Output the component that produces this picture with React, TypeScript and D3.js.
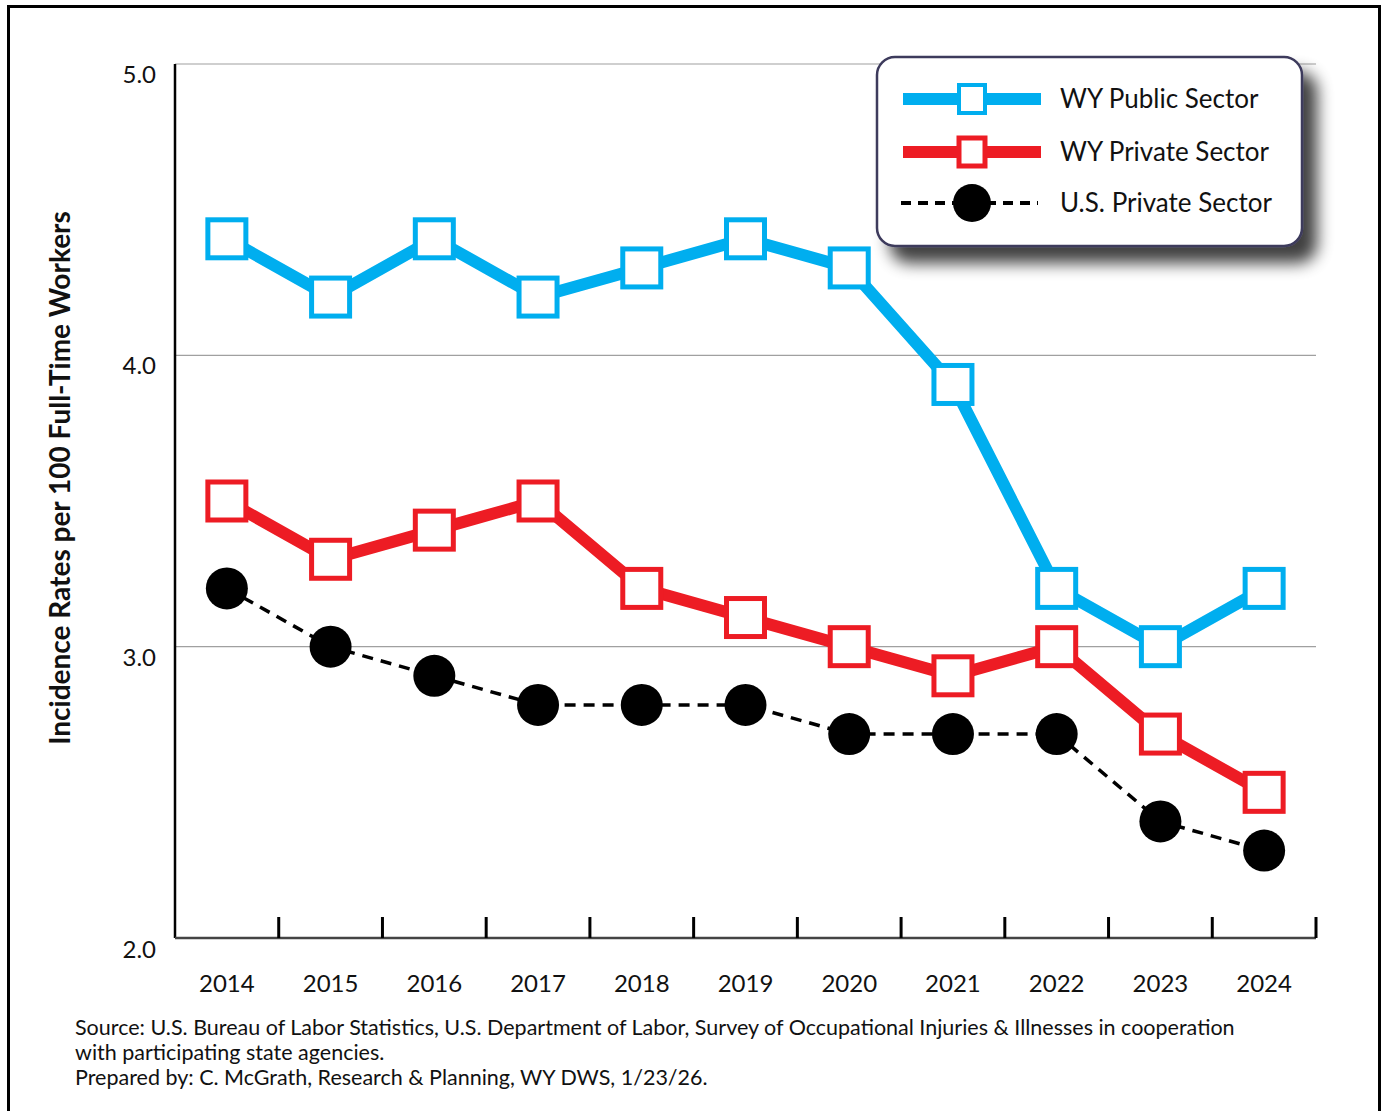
import React from "react";
import * as d3 from "d3";

const years = ["2014", "2015", "2016", "2017", "2018", "2019", "2020", "2021", "2022", "2023", "2024"];
const wyPublic = [4.4, 4.2, 4.4, 4.2, 4.3, 4.4, 4.3, 3.9, 3.2, 3.0, 3.2];
const wyPrivate = [3.5, 3.3, 3.4, 3.5, 3.2, 3.1, 3.0, 2.9, 3.0, 2.7, 2.5];
const usPrivate = [3.2, 3.0, 2.9, 2.8, 2.8, 2.8, 2.7, 2.7, 2.7, 2.4, 2.3];
const yTicks = [2.0, 3.0, 4.0, 5.0];
const seriesNames = ["WY Public Sector", "WY Private Sector", "U.S. Private Sector"];
const footer = [
  "Source: U.S. Bureau of Labor Statistics, U.S. Department of Labor, Survey of Occupational Injuries & Illnesses in cooperation",
  "with participating state agencies.",
  "Prepared by: C. McGrath, Research & Planning, WY DWS, 1/23/26.",
];

const BLUE = "#00AEEF";
const RED = "#ED1C24";
const FONT = "Lato, 'Open Sans', sans-serif";

export default function App() {
  const W = 1384, H = 1111;
  const left = 175, right = 1316, top = 64, bottom = 938;
  const x = d3.scaleBand<string>().domain(years).range([left, right]);
  const y = d3.scaleLinear().domain([2, 5]).range([bottom, top]);
  const cx = (i: number) => (x(years[i]) as number) + x.bandwidth() / 2;
  const line = d3.line<number>().x((_, i) => cx(i)).y((d) => y(d));
  const sq = 38;

  const legX = 877, legY = 57, legW = 425, legH = 189;
  const legRows = [99, 152, 203];

  return (
    <svg width={W} height={H} style={{ position: "absolute", left: 0, top: 0 }}>
      <defs>
        <filter id="shadow" x="-10%" y="-10%" width="130%" height="150%">
          <feGaussianBlur in="SourceAlpha" stdDeviation="8" />
          <feOffset dx="14" dy="16" result="off" />
          <feComponentTransfer>
            <feFuncA type="linear" slope="0.75" />
          </feComponentTransfer>
          <feMerge>
            <feMergeNode />
            <feMergeNode in="SourceGraphic" />
          </feMerge>
        </filter>
      </defs>
      <rect x={0} y={0} width={W} height={H} fill="#fff" />
      <rect x={8.5} y={6.5} width={1371} height={1110} fill="none" stroke="#000" strokeWidth={3} />

      {/* gridlines */}
      {yTicks.filter((t) => t > 2).map((t) => (
        <line key={t} x1={left} x2={right} y1={y(t)} y2={y(t)} stroke="#a0a0a0" strokeWidth={1.2} />
      ))}
      {/* y labels */}
      {yTicks.map((t) => (
        <text key={t} x={156} y={y(t) + (t === 2 ? 20 : 19)} textAnchor="end" fontFamily={FONT} fontSize={24} fill="#111">
          {t.toFixed(1)}
        </text>
      ))}
      {/* axes */}
      <line x1={left} x2={left} y1={top} y2={bottom} stroke="#000" strokeWidth={2.5} />
      <line x1={left} x2={right} y1={bottom} y2={bottom} stroke="#444" strokeWidth={2.5} />
      {years.map((yr) => {
        const xx = (x(yr) as number) + x.bandwidth();
        return <line key={yr} x1={xx} x2={xx} y1={bottom} y2={bottom - 21} stroke="#000" strokeWidth={3} />;
      })}
      {years.map((yr, i) => (
        <text key={yr} x={cx(i)} y={992} textAnchor="middle" fontFamily={FONT} fontSize={24} fill="#111">
          {yr}
        </text>
      ))}

      {/* y title */}
      <text transform={`translate(70,478) rotate(-90)`} textAnchor="middle" fontFamily={FONT} fontWeight="bold" fontSize={28} fill="#111">
        Incidence Rates per 100 Full-Time Workers
      </text>

      {/* US private */}
      <path d={line(usPrivate) as string} fill="none" stroke="#000" strokeWidth={3.5} strokeDasharray="11 8" />
      {usPrivate.map((v, i) => (
        <circle key={i} cx={cx(i)} cy={y(v)} r={21} fill="#000" />
      ))}
      {/* WY private */}
      <path d={line(wyPrivate) as string} fill="none" stroke={RED} strokeWidth={12} strokeLinejoin="miter" />
      {wyPrivate.map((v, i) => (
        <rect key={i} x={cx(i) - sq / 2} y={y(v) - sq / 2} width={sq} height={sq} fill="#fff" stroke={RED} strokeWidth={5} />
      ))}
      {/* WY public */}
      <path d={line(wyPublic) as string} fill="none" stroke={BLUE} strokeWidth={12} strokeLinejoin="miter" />
      {wyPublic.map((v, i) => (
        <rect key={i} x={cx(i) - sq / 2} y={y(v) - sq / 2} width={sq} height={sq} fill="#fff" stroke={BLUE} strokeWidth={5} />
      ))}

      {/* legend */}
      <rect x={legX} y={legY} width={legW} height={legH} rx={18} ry={18} fill="#fff" stroke="#3c3a5c" strokeWidth={2.5} filter="url(#shadow)" />
      <line x1={903} x2={1041} y1={legRows[0]} y2={legRows[0]} stroke={BLUE} strokeWidth={12} />
      <rect x={972 - 13} y={legRows[0] - 14} width={26} height={28} fill="#fff" stroke={BLUE} strokeWidth={4} />
      <line x1={903} x2={1041} y1={legRows[1]} y2={legRows[1]} stroke={RED} strokeWidth={12} />
      <rect x={972 - 13} y={legRows[1] - 14} width={26} height={28} fill="#fff" stroke={RED} strokeWidth={5} />
      <line x1={901} x2={1038} y1={legRows[2]} y2={legRows[2]} stroke="#000" strokeWidth={4} strokeDasharray="10 7" />
      <circle cx={972} cy={legRows[2]} r={19} fill="#000" />
      {seriesNames.map((s, i) => (
        <text key={s} x={1060} y={legRows[i] + 9} fontFamily={FONT} fontSize={26} fill="#111">
          {s}
        </text>
      ))}

      {/* footer */}
      {footer.map((f, i) => (
        <text key={i} x={75} y={1035 + i * 25} fontFamily={FONT} fontSize={21.5} fill="#111">
          {f}
        </text>
      ))}
    </svg>
  );
}
